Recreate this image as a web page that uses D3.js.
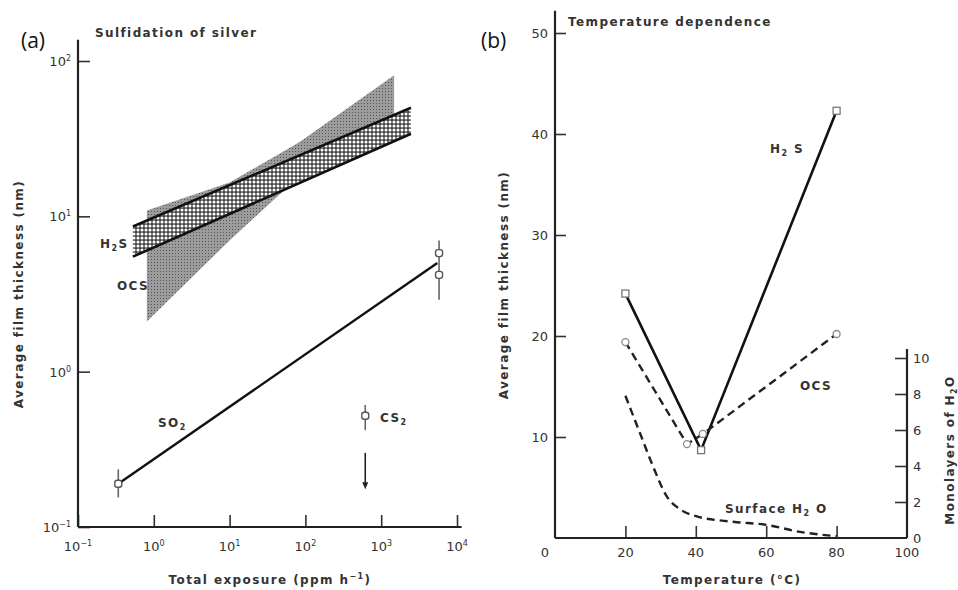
<!DOCTYPE html>
<meta charset="utf-8">
<style>
body { margin: 0; background: #fff; }
svg text { font-family: "DejaVu Sans", sans-serif; fill: #222; }
.lbl { font-size: 12px; font-weight: bold; letter-spacing: 1.4px; fill: #333; }
.tk { font-size: 13px; fill: #333; }
.panel { font-family: "Open Sans", sans-serif; font-size: 21px; font-weight: normal; fill: #111; letter-spacing: 0; }
</style>
<svg id="chart" width="958" height="590"></svg>
<script src="https://d3js.org/d3.v7.min.js"></script>
<script>
// ---- panel (a): sulfidation of silver (log-log) ----
const expPowers = [-1, 0, 1, 2, 3, 4];
const thickPowers = [-1, 0, 1, 2];
const h2sExposure = [0.53, 2470];
const h2sUpper = [8.6, 50];
const h2sLower = [5.5, 34];
const ocsExposure = [0.81, 10, 83, 1480];
const ocsUpper = [10.9, 16.5, 30, 81];
const ocsLower = [2.1, 7.0, 18.1, 36];
const so2FitExposure = [0.34, 5500];
const so2FitThick = [0.19, 5.0];
const so2PtExposure = [0.34, 5800, 5800];
const so2PtThick = [0.19, 5.8, 4.2];
const so2ErrExposure = [0.34, 5800];
const so2ErrLo = [0.155, 2.9];
const so2ErrHi = [0.235, 7.0];
const cs2Exposure = 616, cs2Thick = 0.52, cs2Lo = 0.42, cs2Hi = 0.61;
const cs2Arrow = [0.30, 0.175];

// ---- panel (b): temperature dependence ----
const tempTicks = [0, 20, 40, 60, 80, 100];
const thickTicksB = [10, 20, 30, 40, 50];
const monoTicks = [0, 2, 4, 6, 8, 10];
const h2sTemp = [20, 41.5, 80];
const h2sThick = [24.2, 8.7, 42.3];
const ocsTemp = [20, 37.5, 42, 80];
const ocsThick = [19.4, 9.3, 10.3, 20.2];
const waterTemp = [20, 24, 27.6, 31.8, 35.5, 40.3, 50.6, 60, 69.6, 80];
const waterMono = [7.9, 5.9, 4.1, 2.3, 1.6, 1.2, 0.9, 0.73, 0.34, 0.1];

const svg = d3.select("#chart");
const defs = svg.append("defs");

// checker net for the H2S band
const pNet = defs.append("pattern").attr("id", "net")
  .attr("patternUnits", "userSpaceOnUse").attr("width", 4).attr("height", 4);
pNet.append("rect").attr("width", 4).attr("height", 4).attr("fill", "#444");
pNet.append("circle").attr("cx", 2).attr("cy", 2).attr("r", 1.5).attr("fill", "#fff");

// stipple for the OCS fan
const pDot = defs.append("pattern").attr("id", "dots")
  .attr("patternUnits", "userSpaceOnUse").attr("width", 3).attr("height", 3);
pDot.append("rect").attr("width", 3).attr("height", 3).attr("fill", "#9c9c9c");
pDot.append("rect").attr("x", 1).attr("y", 1).attr("width", 1).attr("height", 1).attr("fill", "#555");

const xA = d3.scaleLog().domain([0.1, 1e4]).range([78, 457]);
const yA = d3.scaleLog().domain([0.1, 100]).range([527, 61]);

function pow10(sel, p) {
  sel.append("tspan").text("10");
  sel.append("tspan").attr("dy", -5).attr("font-size", 8).text(p < 0 ? "−" + (-p) : p);
}
function chem(sel, parts) {
  // parts: [text, sub?]
  let shift = 0;
  parts.forEach(([t, s]) => {
    const dy = s ? 3 - shift : -shift;
    shift = s ? 3 : 0;
    sel.append("tspan").attr("dy", dy).attr("font-size", s ? 8 : null).text(t);
  });
}

const gA = svg.append("g");

// OCS fan
const fan = ocsExposure.map((e, i) => [xA(e), yA(ocsUpper[i])])
  .concat(ocsExposure.map((e, i) => [xA(e), yA(ocsLower[i])]).reverse());
gA.append("path").attr("d", d3.line()(fan)).attr("fill", "url(#dots)");

// H2S band
const band = h2sExposure.map((e, i) => [xA(e), yA(h2sUpper[i])])
  .concat(h2sExposure.map((e, i) => [xA(e), yA(h2sLower[i])]).reverse());
gA.append("path").attr("d", d3.line()(band)).attr("fill", "url(#net)");
[h2sUpper, h2sLower].forEach(arr => {
  gA.append("path")
    .attr("d", d3.line()(h2sExposure.map((e, i) => [xA(e), yA(arr[i])])))
    .attr("stroke", "#111").attr("stroke-width", 2.6).attr("fill", "none");
});

// SO2 fit
gA.append("path")
  .attr("d", d3.line()(so2FitExposure.map((e, i) => [xA(e), yA(so2FitThick[i])])))
  .attr("stroke", "#111").attr("stroke-width", 2.4).attr("fill", "none");

// error bars
const errs = so2ErrExposure.map((e, i) => ({x: e, lo: so2ErrLo[i], hi: so2ErrHi[i]}))
  .concat([{x: cs2Exposure, lo: cs2Lo, hi: cs2Hi}]);
gA.selectAll(".err").data(errs).join("line")
  .attr("x1", d => xA(d.x)).attr("x2", d => xA(d.x))
  .attr("y1", d => yA(d.lo)).attr("y2", d => yA(d.hi))
  .attr("stroke", "#666").attr("stroke-width", 1.6);

const pts = so2PtExposure.map((e, i) => ({x: e, y: so2PtThick[i]}))
  .concat([{x: cs2Exposure, y: cs2Thick}]);
gA.selectAll(".pt").data(pts).join("rect")
  .attr("x", d => xA(d.x) - 3.5).attr("y", d => yA(d.y) - 3.5)
  .attr("width", 7).attr("height", 7).attr("rx", 2.5)
  .attr("fill", "#fff").attr("stroke", "#555").attr("stroke-width", 1.4);

// arrow under CS2
gA.append("line")
  .attr("x1", xA(cs2Exposure)).attr("x2", xA(cs2Exposure))
  .attr("y1", yA(cs2Arrow[0])).attr("y2", yA(cs2Arrow[1]) - 5)
  .attr("stroke", "#222").attr("stroke-width", 1.6);
gA.append("path")
  .attr("d", d3.line()([[xA(cs2Exposure) - 3, yA(cs2Arrow[1]) - 7], [xA(cs2Exposure) + 3, yA(cs2Arrow[1]) - 7], [xA(cs2Exposure), yA(cs2Arrow[1])]]))
  .attr("fill", "#222");

// axes (a)
gA.append("g").attr("transform", `translate(0,${yA(0.1)})`)
  .call(d3.axisBottom(xA).tickValues(expPowers.map(p => Math.pow(10, p))).tickSize(-12).tickFormat(""))
  .call(g => g.select(".domain").remove())
  .call(g => g.selectAll(".tick line").attr("stroke", "#333").attr("stroke-width", 1.6));
gA.append("g").attr("transform", `translate(${xA(0.1)},0)`)
  .call(d3.axisLeft(yA).tickValues(thickPowers.map(p => Math.pow(10, p))).tickSize(-12).tickFormat(""))
  .call(g => g.select(".domain").remove())
  .call(g => g.selectAll(".tick line").attr("stroke", "#333").attr("stroke-width", 1.6));
gA.append("line").attr("x1", xA(0.1)).attr("x2", xA(1.15e4)).attr("y1", yA(0.1)).attr("y2", yA(0.1))
  .attr("stroke", "#222").attr("stroke-width", 2.2);
gA.append("line").attr("x1", xA(0.1)).attr("x2", xA(0.1)).attr("y1", yA(0.1)).attr("y2", yA(137))
  .attr("stroke", "#222").attr("stroke-width", 2.2);

expPowers.forEach(p => {
  gA.append("text").attr("class", "tk").attr("x", xA(Math.pow(10, p))).attr("y", 551)
    .attr("text-anchor", "middle").call(pow10, p);
});
thickPowers.forEach(p => {
  gA.append("text").attr("class", "tk").attr("x", 71).attr("y", yA(Math.pow(10, p)) + 5)
    .attr("text-anchor", "end").call(pow10, p);
});

gA.append("text").attr("class", "lbl").attr("x", 95).attr("y", 37).text("Sulfidation of silver");
gA.append("text").attr("class", "lbl").attr("x", 270).attr("y", 584).attr("text-anchor", "middle")
  .call(s => {
    s.append("tspan").text("Total exposure (ppm h");
    s.append("tspan").attr("dy", -5).attr("font-size", 8).text("−1");
    s.append("tspan").attr("dy", 5).text(")");
  });
gA.append("text").attr("class", "lbl").attr("transform", "translate(23,294) rotate(-90)")
  .attr("text-anchor", "middle").text("Average film thickness (nm)");
gA.append("text").attr("class", "lbl").attr("x", 100).attr("y", 248).call(chem, [["H"], ["2", 1], ["S"]]);
gA.append("text").attr("class", "lbl").attr("x", 117).attr("y", 290).text("OCS");
gA.append("text").attr("class", "lbl").attr("x", 158).attr("y", 427).call(chem, [["SO"], ["2", 1]]);
gA.append("text").attr("class", "lbl").attr("x", 380).attr("y", 422).call(chem, [["CS"], ["2", 1]]);
svg.append("text").attr("class", "panel").attr("x", 21).attr("y", 48).text("(a)");

// ---- panel (b) ----
const xB = d3.scaleLinear().domain([0, 100]).range([555, 907]);
const yB = d3.scaleLinear().domain([0, 50]).range([538, 33]);
const yR = d3.scaleLinear().domain([0, 10]).range([538, 358]);
const gB = svg.append("g");

gB.append("g").attr("transform", `translate(0,${yB(0)})`)
  .call(d3.axisBottom(xB).tickValues([20, 40, 60, 80]).tickSize(-12).tickFormat(""))
  .call(g => g.select(".domain").remove())
  .call(g => g.selectAll(".tick line").attr("stroke", "#333").attr("stroke-width", 1.6));
gB.append("g").attr("transform", `translate(${xB(0)},0)`)
  .call(d3.axisLeft(yB).tickValues(thickTicksB).tickSize(-11).tickFormat(""))
  .call(g => g.select(".domain").remove())
  .call(g => g.selectAll(".tick line").attr("stroke", "#333").attr("stroke-width", 1.6));
gB.append("g").attr("transform", `translate(${xB(100)},0)`)
  .call(d3.axisRight(yR).tickValues(monoTicks.slice(1)).tickSize(-12).tickFormat(""))
  .call(g => g.select(".domain").remove())
  .call(g => g.selectAll(".tick line").attr("stroke", "#333").attr("stroke-width", 1.6));
gB.append("line").attr("x1", xB(0)).attr("x2", xB(100)).attr("y1", yB(0)).attr("y2", yB(0))
  .attr("stroke", "#222").attr("stroke-width", 2.2);
gB.append("line").attr("x1", xB(0)).attr("x2", xB(0)).attr("y1", yB(0)).attr("y2", yB(52.2))
  .attr("stroke", "#222").attr("stroke-width", 2.2);
gB.append("line").attr("x1", xB(100)).attr("x2", xB(100)).attr("y1", yR(0)).attr("y2", yR(10.5))
  .attr("stroke", "#222").attr("stroke-width", 2.2);

gB.selectAll(".xt").data(tempTicks).join("text").attr("class", "tk")
  .attr("x", d => xB(d) + (d === 0 ? -10 : 0)).attr("y", 557).attr("text-anchor", "middle").text(d => d);
gB.selectAll(".yt").data(thickTicksB).join("text").attr("class", "tk")
  .attr("x", 548).attr("y", d => yB(d) + 5).attr("text-anchor", "end").text(d => d);
gB.selectAll(".rt").data(monoTicks).join("text").attr("class", "tk")
  .attr("x", 913).attr("y", d => yR(d) + 5).text(d => d);

// H2S solid
gB.append("path")
  .attr("d", d3.line()(h2sTemp.map((t, i) => [xB(t), yB(h2sThick[i])])))
  .attr("stroke", "#111").attr("stroke-width", 2.6).attr("fill", "none");
// OCS dashed
gB.append("path")
  .attr("d", d3.line()(ocsTemp.map((t, i) => [xB(t), yB(ocsThick[i])])))
  .attr("stroke", "#222").attr("stroke-width", 2.4).attr("stroke-dasharray", "8,5").attr("fill", "none");
// surface water dashed, right axis
gB.append("path")
  .attr("d", d3.line().curve(d3.curveMonotoneX)(waterTemp.map((t, i) => [xB(t), yR(waterMono[i])])))
  .attr("stroke", "#222").attr("stroke-width", 2.4).attr("stroke-dasharray", "8,5").attr("fill", "none");

gB.selectAll(".hm").data(h2sTemp.map((t, i) => [t, h2sThick[i]])).join("rect")
  .attr("x", d => xB(d[0]) - 3.5).attr("y", d => yB(d[1]) - 3.5).attr("width", 7).attr("height", 7)
  .attr("fill", "#fff").attr("stroke", "#777").attr("stroke-width", 1.3);
gB.selectAll(".om").data(ocsTemp.map((t, i) => [t, ocsThick[i]])).join("circle")
  .attr("cx", d => xB(d[0])).attr("cy", d => yB(d[1])).attr("r", 3.5)
  .attr("fill", "#fff").attr("stroke", "#888").attr("stroke-width", 1.3);

gB.append("text").attr("class", "lbl").attr("x", 568).attr("y", 26).text("Temperature dependence");
gB.append("text").attr("class", "lbl").attr("x", 732).attr("y", 584).attr("text-anchor", "middle").text("Temperature (°C)");
gB.append("text").attr("class", "lbl").attr("transform", "translate(508,285) rotate(-90)")
  .attr("text-anchor", "middle").text("Average film thickness (nm)");
gB.append("text").attr("class", "lbl").attr("transform", "translate(954,450) rotate(-90)")
  .attr("text-anchor", "middle").call(chem, [["Monolayers of H"], ["2", 1], ["O"]]);
gB.append("text").attr("class", "lbl").attr("x", 770).attr("y", 153).call(chem, [["H"], ["2", 1], [" S"]]);
gB.append("text").attr("class", "lbl").attr("x", 800).attr("y", 390).text("OCS");
gB.append("text").attr("class", "lbl").attr("x", 725).attr("y", 513).call(chem, [["Surface H"], ["2", 1], [" O"]]);
svg.append("text").attr("class", "panel").attr("x", 481).attr("y", 48).text("(b)");
</script>
